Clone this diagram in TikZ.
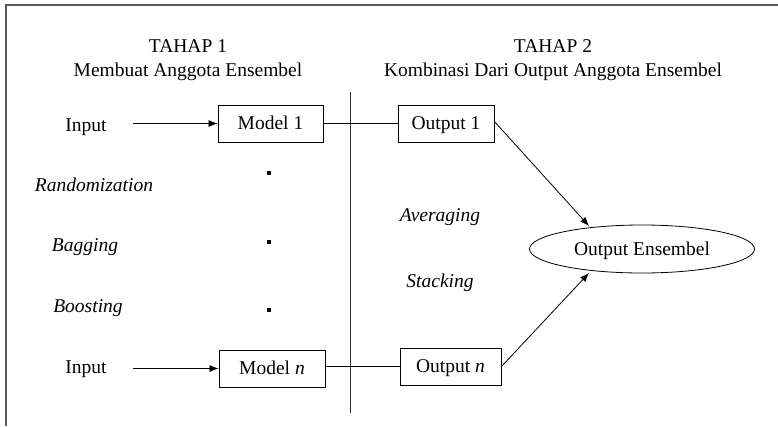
\documentclass[tikz,border=0pt]{standalone}
\usepackage{fontspec}
\setmainfont{Liberation Serif}
\usetikzlibrary{arrows.meta,shapes.geometric}
\begin{document}
\begin{tikzpicture}[x=1pt,y=-1pt,
  every node/.style={font=\fontsize{19.5}{22}\selectfont, text=black,
    text height=13pt, text depth=0.5pt},
  procbox/.style={draw, line width=0.9pt, inner sep=0pt, minimum height=37pt},
  link/.style={line width=0.8pt},
  feed/.style={line width=0.8pt, -{Latex[length=9pt,width=7pt]}},
  method/.style={font=\fontsize{19.5}{22}\selectfont\itshape},
  dotmark/.style={rectangle, fill=black, inner sep=0pt, minimum size=3.4pt,
    text height=, text depth=}]
\useasboundingbox (0,0) rectangle (778,426);
% outer frame: top and left edges only
\draw[line width=2pt, black!65] (6,426) -- (6,5) -- (778,5);

% stage headings
\node (h1) at (188,46) {TAHAP 1};
\node (s1) at (188,70) {Membuat Anggota Ensembel};
\node (h2) at (553,46) {TAHAP 2};
\node (s2) at (553,70) {Kombinasi Dari Output Anggota Ensembel};

% divider between the two stages
\coordinate (dtop) at (350,92);
\coordinate (dbot) at (350,413);
\draw[line width=0.9pt, black!80] (dtop) -- (dbot);

% first member
\node (in1) at (86,125) {Input};
\coordinate (in1e) at (133,123.5);
\node[procbox, minimum width=105pt] (m1) at (270.5,123.5) {Model 1};
\node[procbox, minimum width=96pt] (o1) at (446,123.5) {Output 1};

% last member
\node (inn) at (86,367) {Input};
\coordinate (inne) at (133,368.5);
\node[procbox, minimum width=106pt] (mn) at (272,368.5) {Model \textit{n}};
\node[procbox, minimum width=101pt] (on) at (450.5,366.5) {Output \textit{n}};

% ensemble methods
\node[method] (rnd) at (94,185) {Randomization};
\node[method] (bag) at (85,245) {Bagging};
\node[method] (bst) at (88,306) {Boosting};
\node[method] (avg) at (440,215) {Averaging};
\node[method] (stk) at (440,281) {Stacking};

% ellipsis dots between the members
\node[dotmark] (d1) at (269,173) {};
\node[dotmark] (d2) at (269,242) {};
\node[dotmark] (d3) at (269,310) {};

% combined result
\node[ellipse, draw, line width=0.8pt, minimum width=225pt, minimum height=48pt, inner sep=0pt] (oe) at (642,249) {Output Ensembel};

% connectors
\draw[feed] (in1e) -- (m1.west);
\draw[feed] (inne) -- (mn.west);
\draw[link] (m1.east) -- (o1.west);
\draw[link] (mn.east |- on.west) -- (on.west);
\draw[feed] (o1.east) ++(0,-2) -- (589,226);
\draw[feed] (on.east) -- (589,273);
\end{tikzpicture}
\end{document}
